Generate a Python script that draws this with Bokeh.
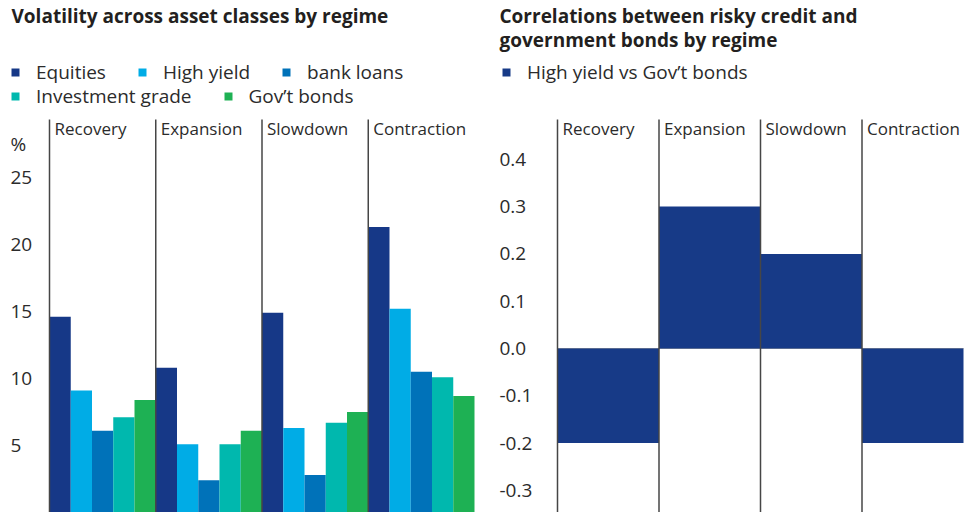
from bokeh.plotting import figure
from bokeh.layouts import row
from bokeh.models import (Range1d, Legend, LegendItem, LabelSet, ColumnDataSource, Label)
from bokeh.core.properties import value
from bokeh.embed import file_html
from bokeh.resources import INLINE

regimes = ["Recovery", "Expansion", "Slowdown", "Contraction"]
series = ["Equities", "High yield", "bank loans", "Investment grade", "Gov\u2019t bonds"]
colors = ["#163887", "#00ace6", "#0072b9", "#00b8ae", "#1eb154"]
equities = [14.6, 10.8, 14.9, 21.3]
high_yield = [9.1, 5.1, 6.3, 15.2]
bank_loans = [6.1, 2.4, 2.8, 10.5]
investment_grade = [7.1, 5.1, 6.7, 10.1]
govt_bonds = [8.4, 6.1, 7.5, 8.7]
vol_ticks = [5, 10, 15, 20, 25]
vol_title = ["Volatility across asset classes by regime"]

corr_label = "High yield vs Gov\u2019t bonds"
corr_values = [-0.2, 0.3, 0.2, -0.2]
corr_ticks = [0.4, 0.3, 0.2, 0.1, 0.0, -0.1, -0.2, -0.3]
corr_tick_labels = ["0.4", "0.3", "0.2", "0.1", "0.0", "-0.1", "-0.2", "-0.3"]
corr_title = ["Correlations between risky credit and", "government bonds by regime"]

FONT = "Open Sans"
TXT = "#2b2b2b"
LINE = "#464646"
H = 512
PANEL_TOP = 119  # pixel row where the panels start


class Frame:
    """Pixel layout of one chart; the whole figure is the plotting frame."""

    def __init__(self, width, px_left, px_right, n, y_ref_val, y_ref_px, y_per_px):
        self.width = width
        self.ppu_x = (px_right - px_left) / n
        self.x0 = -px_left / self.ppu_x
        self.x1 = (width - px_left) / self.ppu_x
        self.y1 = y_ref_val + y_ref_px * y_per_px
        self.y0 = y_ref_val - (H - y_ref_px) * y_per_px
        self.ypp = y_per_px

    def yv(self, px):
        return self.y1 - px * self.ypp

    def xv(self, px):
        return self.x0 + px / self.ppu_x


def base_fig(fr):
    p = figure(width=fr.width, height=H, output_backend="svg", toolbar_location=None,
               x_range=Range1d(fr.x0, fr.x1), y_range=Range1d(fr.y0, fr.y1),
               min_border=0)
    p.xaxis.visible = False
    p.yaxis.visible = False
    p.xgrid.visible = False
    p.ygrid.visible = False
    p.outline_line_color = None
    p.background_fill_color = "white"
    p.border_fill_color = "white"
    return p


def add_title(p, fr, lines, px_x, px_y):
    for k, t in enumerate(lines):
        p.add_layout(Label(x=fr.xv(px_x), y=fr.yv(px_y + 24 * k), text=t,
                           text_font=FONT, text_font_size="19px", text_font_style="bold",
                           text_color="#231f20", text_baseline="middle", text_align="left"))


def add_regime_labels(p, fr, n):
    top = fr.yv(PANEL_TOP)
    src = ColumnDataSource(dict(x=list(range(n)), y=[top] * n, t=regimes))
    p.add_layout(LabelSet(x="x", y="y", text="t", source=src, x_offset=5, y_offset=3,
                          text_font=value(FONT), text_font_size=value("17px"),
                          text_color=value(TXT), text_baseline=value("top"),
                          text_align=value("left")))


def add_dividers(p, fr, n):
    xs = [[i, i] for i in range(n)]
    ys = [[fr.y0, fr.yv(PANEL_TOP)] for _ in range(n)]
    p.multi_line(xs, ys, line_color=LINE, line_width=1.5)


def add_ticks(p, fr, vals, labels, px_x):
    src = ColumnDataSource(dict(x=[fr.xv(px_x)] * len(vals), y=vals, t=labels))
    p.add_layout(LabelSet(x="x", y="y", text="t", source=src,
                          text_font=value(FONT), text_font_size=value("19px"),
                          text_color=value(TXT), text_baseline=value("middle"),
                          text_align=value("left")))


def make_legend(items, x, y):
    return Legend(items=items, orientation="horizontal", location=(x, y),
                  label_text_font=FONT, label_text_font_size="19px", label_text_color=TXT,
                  glyph_width=10, glyph_height=10, label_standoff=16, spacing=31,
                  padding=0, margin=0, border_line_color=None, background_fill_alpha=0,
                  label_height=20)


n = len(regimes)

# ---------- left chart ----------
fr1 = Frame(490, 49, 474, n, 0.0, 512, 5 / 67.0)
p1 = base_fig(fr1)
all_series = [equities, high_yield, bank_loans, investment_grade, govt_bonds]
renderers = []
for j, (name, vals, c) in enumerate(zip(series, all_series, colors)):
    xs = [i + (j + 0.5) / 5 for i in range(n)]
    r = p1.vbar(x=xs, top=vals, bottom=0, width=0.2, fill_color=c, line_color=None)
    renderers.append(r)
add_dividers(p1, fr1, n)
add_regime_labels(p1, fr1, n)
add_ticks(p1, fr1, vol_ticks, [str(v) for v in vol_ticks], 10)
p1.add_layout(Label(x=fr1.xv(10), y=fr1.yv(143), text="%", text_font=FONT,
                    text_font_size="19px", text_color=TXT, text_baseline="middle"))
leg1 = make_legend([LegendItem(label=series[k], renderers=[renderers[k]]) for k in range(3)],
                   10, H - 85)
leg2 = make_legend([LegendItem(label=series[k], renderers=[renderers[k]]) for k in range(3, 5)],
                   10, H - 109)
p1.add_layout(leg1)
p1.add_layout(leg2)
add_title(p1, fr1, vol_title, 11, 15)

# ---------- right chart ----------
fr2 = Frame(485, 67, 473, n, 0.0, 348, 0.1 / 47.3)
p2 = base_fig(fr2)
p2.line(x=[0, n], y=[0, 0], line_color="#9a9a9a", line_width=1.2)
r2 = p2.vbar(x=[i + 0.5 for i in range(n)], top=corr_values, bottom=0, width=1.0,
             fill_color="#173a87", line_color=None)
add_dividers(p2, fr2, n)
add_regime_labels(p2, fr2, n)
add_ticks(p2, fr2, corr_ticks, corr_tick_labels, 9)
leg3 = make_legend([LegendItem(label=corr_label, renderers=[r2])], 11, H - 85)
p2.add_layout(leg3)
add_title(p2, fr2, corr_title, 9, 15)

layout = row(p1, p2)
open("out.html", "w").write(file_html(layout, INLINE))
